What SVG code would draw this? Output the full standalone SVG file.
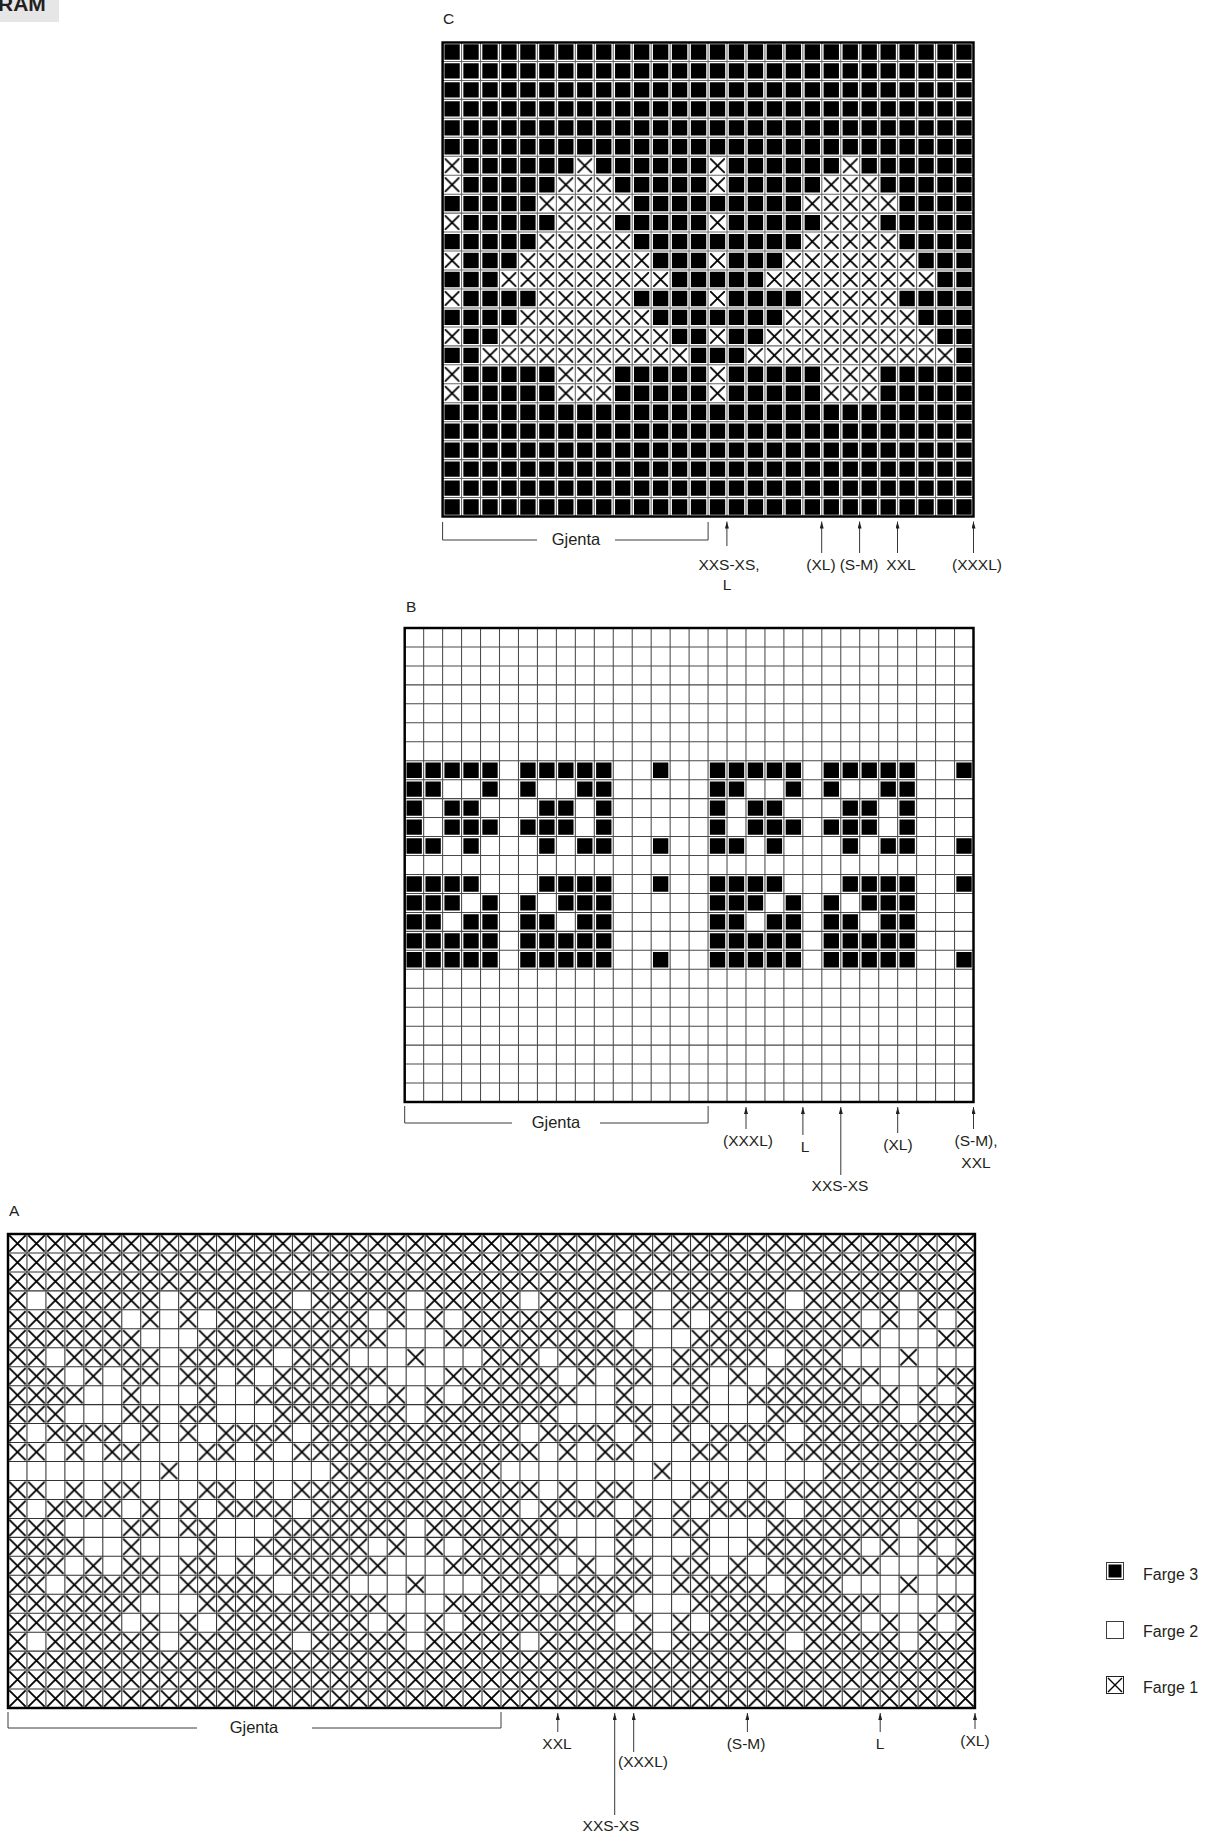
<svg xmlns="http://www.w3.org/2000/svg" width="1207" height="1839" viewBox="0 0 1207 1839">
<defs>
<style>
.t{font-family:"Liberation Sans",Arial,sans-serif;font-size:15.5px;fill:#231f20}
.m{text-anchor:middle}
.g{font-size:16.5px}
.lg{font-size:16px}
.ar{stroke:#231f20;stroke-width:0.9;fill:none}
.br{stroke:#3c3c3c;stroke-width:1;fill:none}
</style>
<marker id="ah" viewBox="0 0 7 4" refX="7" refY="2" markerWidth="7" markerHeight="4" markerUnits="userSpaceOnUse" orient="auto">
<path d="M0 0L7 2L0 4z" fill="#231f20"/>
</marker>
<pattern id="pxc" patternUnits="userSpaceOnUse" width="1" height="1">
<rect width="1" height="1" fill="#fff"/>
<path d="M.11 .11L.89 .89M.89 .11L.11 .89" stroke="#000" stroke-width=".095" fill="none"/>
</pattern>
<pattern id="pxa" patternUnits="userSpaceOnUse" width="1" height="1">
<rect width="1" height="1" fill="#fff"/>
<path d="M.07 .07L.93 .93M.93 .07L.07 .93" stroke="#000" stroke-width=".095" fill="none"/>
</pattern>
</defs>
<rect width="1207" height="1839" fill="#fff"/>

<g id="title">
<rect x="0" y="0" width="59" height="22" fill="#e6e6e6"/>
<text x="-2" y="11" font-family="Liberation Sans,Arial,sans-serif" font-weight="bold" font-size="21" fill="#231f20">RAM</text>
</g>

<g id="chart-c">
<text class="t" x="443" y="24">C</text>
<g transform="translate(442.6 42.5) scale(18.96)">
<rect width="28" height="25" fill="#000"/>
<path id="c-motif" fill="url(#pxc)" d="M0 6h1v2h-1z M0 9h1v1h-1z M0 11h1v1h-1z M0 13h1v1h-1z M0 15h1v1h-1z M0 17h1v2h-1z M7 6h1v1h-1z M6 7h3v1h-3z M5 8h5v1h-5z M6 9h3v1h-3z M5 10h5v1h-5z M4 11h7v1h-7z M3 12h9v1h-9z M5 13h5v1h-5z M4 14h7v1h-7z M3 15h9v1h-9z M2 16h11v1h-11z M6 17h3v2h-3z"/>
<use href="#c-motif" x="14"/>
<line x1="0" y1="12.5" x2="28" y2="12.5" stroke="#fff" stroke-width="25" stroke-dasharray="0.19 0.81" stroke-dashoffset="0.095"/>
<line x1="14" y1="0" x2="14" y2="25" stroke="#fff" stroke-width="28" stroke-dasharray="0.19 0.81" stroke-dashoffset="0.095"/>
<line x1="0" y1="12.5" x2="28" y2="12.5" stroke="#6a6a6a" stroke-width="25" stroke-dasharray="0.055 0.945" stroke-dashoffset="0.0275"/>
<line x1="14" y1="0" x2="14" y2="25" stroke="#6a6a6a" stroke-width="28" stroke-dasharray="0.055 0.945" stroke-dashoffset="0.0275"/>
<rect width="28" height="25" fill="none" stroke="#000" stroke-width="0.13"/>
</g>
<text class="t g m" x="576" y="545">Gjenta</text>
<text class="t m" x="729" y="570">XXS-XS,</text>
<text class="t m" x="727" y="590">L</text>
<text class="t m" x="821" y="570">(XL)</text>
<text class="t m" x="859" y="570">(S-M)</text>
<text class="t m" x="901" y="570">XXL</text>
<text class="t m" x="977" y="570">(XXXL)</text>
</g>

<g id="chart-b">
<text class="t" x="406" y="612">B</text>
<g transform="translate(404.7 628) scale(18.96)">
<rect width="30" height="25" fill="#fff"/>
<path id="b-motif" fill="#000" d="M0 7h5v1h-5z M6 7h5v1h-5z M13 7h1v1h-1z M0 8h2v1h-2z M4 8h1v1h-1z M6 8h1v1h-1z M9 8h2v1h-2z M0 9h1v1h-1z M2 9h2v1h-2z M7 9h2v1h-2z M10 9h1v1h-1z M0 10h1v1h-1z M2 10h3v1h-3z M6 10h3v1h-3z M10 10h1v1h-1z M0 11h2v1h-2z M3 11h1v1h-1z M7 11h1v1h-1z M9 11h2v1h-2z M13 11h1v1h-1z M0 13h4v1h-4z M7 13h4v1h-4z M13 13h1v1h-1z M0 14h3v1h-3z M4 14h1v1h-1z M6 14h1v1h-1z M8 14h3v1h-3z M0 15h2v1h-2z M3 15h2v1h-2z M6 15h2v1h-2z M9 15h2v1h-2z M0 16h5v2h-5z M6 16h5v2h-5z M13 17h1v1h-1z"/>
<use href="#b-motif" x="16"/>
<line x1="0" y1="12.5" x2="30" y2="12.5" stroke="#fff" stroke-width="25" stroke-dasharray="0.19 0.81" stroke-dashoffset="0.095"/>
<line x1="15" y1="0" x2="15" y2="25" stroke="#fff" stroke-width="30" stroke-dasharray="0.19 0.81" stroke-dashoffset="0.095"/>
<line x1="0" y1="12.5" x2="30" y2="12.5" stroke="#4a4a4a" stroke-width="25" stroke-dasharray="0.055 0.945" stroke-dashoffset="0.0275"/>
<line x1="15" y1="0" x2="15" y2="25" stroke="#4a4a4a" stroke-width="30" stroke-dasharray="0.055 0.945" stroke-dashoffset="0.0275"/>
<rect width="30" height="25" fill="none" stroke="#000" stroke-width="0.13"/>
</g>
<text class="t g m" x="556" y="1128">Gjenta</text>
<text class="t m" x="748" y="1146">(XXXL)</text>
<text class="t m" x="805" y="1152">L</text>
<text class="t m" x="840" y="1191">XXS-XS</text>
<text class="t m" x="898" y="1150">(XL)</text>
<text class="t m" x="976" y="1146">(S-M),</text>
<text class="t m" x="976" y="1168">XXL</text>
</g>

<g id="chart-a">
<text class="t" x="9" y="1216">A</text>
<g transform="translate(8 1234) scale(18.96)">
<rect width="51" height="25" fill="url(#pxa)"/>
<g fill="#fff">
<path id="a-half" d="M1 3h1v1h-1z M8 3h1v1h-1z M15 3h1v1h-1z M21 3h1v1h-1z M6 4h1v1h-1z M8 4h1v1h-1z M10 4h1v1h-1z M19 4h1v1h-1z M21 4h1v1h-1z M23 4h1v1h-1z M7 5h3v1h-3z M20 5h3v1h-3z M2 6h1v1h-1z M8 6h1v1h-1z M14 6h1v1h-1z M18 6h3v1h-3z M22 6h3v1h-3z M3 7h1v1h-1z M5 7h1v1h-1z M8 7h1v1h-1z M11 7h1v1h-1z M13 7h1v1h-1z M20 7h3v1h-3z M4 8h2v1h-2z M7 8h3v1h-3z M11 8h2v1h-2z M19 8h1v1h-1z M21 8h1v1h-1z M23 8h1v1h-1z M3 9h3v1h-3z M8 9h1v1h-1z M11 9h3v1h-3z M21 9h1v1h-1z M1 10h1v1h-1z M6 10h1v1h-1z M8 10h1v1h-1z M10 10h1v1h-1z M15 10h1v1h-1z M2 11h1v1h-1z M4 11h1v1h-1z M7 11h3v1h-3z M12 11h1v1h-1z M14 11h1v1h-1z"/>
<path id="a-mid" d="M0 12h8v1h-8z M9 12h8v1h-8z"/>
<use href="#a-half" transform="matrix(1 0 0 -1 0 25)"/>
<use href="#a-half" x="26"/>
<use href="#a-half" transform="matrix(1 0 0 -1 26 25)"/>
<use href="#a-mid" x="26"/>
</g>
<line x1="0" y1="12.5" x2="51" y2="12.5" stroke="#333" stroke-width="25" stroke-dasharray="0.055 0.945" stroke-dashoffset="0.0275"/>
<line x1="25.5" y1="0" x2="25.5" y2="25" stroke="#333" stroke-width="51" stroke-dasharray="0.055 0.945" stroke-dashoffset="0.0275"/>
<rect width="51" height="25" fill="none" stroke="#000" stroke-width="0.13"/>
</g>
<text class="t g m" x="254" y="1733">Gjenta</text>
<text class="t m" x="557" y="1749">XXL</text>
<text class="t m" x="643" y="1767">(XXXL)</text>
<text class="t m" x="611" y="1831">XXS-XS</text>
<text class="t m" x="746" y="1749">(S-M)</text>
<text class="t m" x="880" y="1749">L</text>
<text class="t m" x="975" y="1746">(XL)</text>
</g>

<g id="legend">
<g id="legend-farge3">
<rect x="1106.5" y="1562.5" width="17" height="17" fill="#fff" stroke="#3c3c3c"/>
<rect x="1108.5" y="1564.5" width="13" height="13" fill="#000"/>
<text class="t lg" x="1143" y="1580">Farge 3</text>
</g>
<g id="legend-farge2">
<rect x="1106.5" y="1621.5" width="17" height="17" fill="#fff" stroke="#3c3c3c"/>
<text class="t lg" x="1143" y="1637">Farge 2</text>
</g>
<g id="legend-farge1">
<rect x="1106.5" y="1676.5" width="17" height="17" fill="#fff" stroke="#231f20"/>
<path d="M1108 1678L1122 1692M1122 1678L1108 1692" stroke="#000" stroke-width="1.4"/>
<text class="t lg" x="1143" y="1693">Farge 1</text>
</g>
</g>

<g id="connectors">
<path class="br" d="M442.6 522V540H537M615 540H708.1V522"/>
<path class="ar" marker-end="url(#ah)" d="M726.9 546V521.5"/>
<path class="ar" marker-end="url(#ah)" d="M821.7 553V521.5"/>
<path class="ar" marker-end="url(#ah)" d="M859.6 553V521.5"/>
<path class="ar" marker-end="url(#ah)" d="M897.5 553V521.5"/>
<path class="ar" marker-end="url(#ah)" d="M973.5 553V521.5"/>
<path class="br" d="M404.7 1106V1123H512M600 1123H708.1V1106"/>
<path class="ar" marker-end="url(#ah)" d="M746 1129V1107"/>
<path class="ar" marker-end="url(#ah)" d="M802.9 1135V1107"/>
<path class="ar" marker-end="url(#ah)" d="M840.8 1175V1107"/>
<path class="ar" marker-end="url(#ah)" d="M897.7 1133V1107"/>
<path class="ar" marker-end="url(#ah)" d="M973.5 1129V1107"/>
<path class="br" d="M8 1712V1728H197M312 1728H501V1712"/>
<path class="ar" marker-end="url(#ah)" d="M557.8 1732V1713"/>
<path class="ar" marker-end="url(#ah)" d="M614.7 1815V1713"/>
<path class="ar" marker-end="url(#ah)" d="M633.7 1752V1713"/>
<path class="ar" marker-end="url(#ah)" d="M747.4 1732V1713"/>
<path class="ar" marker-end="url(#ah)" d="M880.2 1732V1713"/>
<path class="ar" marker-end="url(#ah)" d="M975 1729V1713"/>
</g>
</svg>
